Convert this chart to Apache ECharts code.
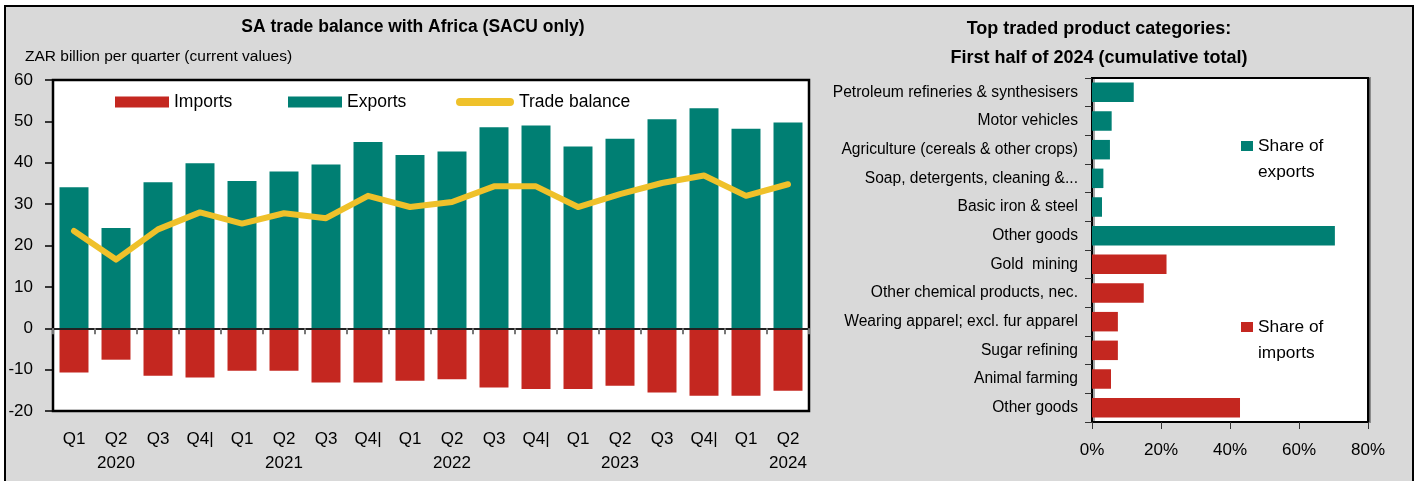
<!DOCTYPE html>
<html>
<head>
<meta charset="utf-8">
<script src="https://cdn.jsdelivr.net/npm/echarts@6/dist/echarts.min.js"></script>
<style>
html,body{margin:0;padding:0;background:#ffffff;}
#chart{width:1419px;height:481px;}
</style>
</head>
<body>
<div id="chart"></div>
<script>
// ---------- Left chart data ----------
const quarterLabels = ['Q1','Q2','Q3','Q4|','Q1','Q2','Q3','Q4|','Q1','Q2','Q3','Q4|','Q1','Q2','Q3','Q4|','Q1','Q2'];
const yearLabels    = ['','2020','','','','2021','','','','2022','','','','2023','','','','2024'];
const exportsValues = [34.1,24.2,35.3,39.9,35.6,37.9,39.6,45.0,41.9,42.7,48.6,49.0,43.9,45.8,50.5,53.2,48.2,49.7];
const importsValues = [-10.7,-7.6,-11.5,-11.9,-10.3,-10.3,-13.1,-13.1,-12.7,-12.3,-14.3,-14.7,-14.7,-13.9,-15.5,-16.3,-16.3,-15.1];
const balanceValues = [23.5,16.6,23.9,28.0,25.3,27.8,26.6,32.0,29.3,30.5,34.3,34.3,29.3,32.4,35.1,36.9,32.0,34.8];

// ---------- Right chart data ----------
const exportProducts = ['Petroleum refineries & synthesisers','Motor vehicles','Agriculture (cereals & other crops)','Soap, detergents, cleaning &...','Basic iron & steel','Other goods'];
const exportShares   = [12.1,5.7,5.2,3.3,2.9,70.4];
const importProducts = ['Gold  mining','Other chemical products, nec.','Wearing apparel; excl. fur apparel','Sugar refining','Animal farming','Other goods'];
const importShares   = [21.6,15.0,7.5,7.5,5.5,42.9];

// ---------- Build ----------
const categories = quarterLabels.map((q, i) => yearLabels[i] ? q + '\n' + yearLabels[i] : q);
const productCats = exportProducts.map((p, i) => ({ value: 'e' + i, label: p }))
  .concat(importProducts.map((p, i) => ({ value: 'i' + i, label: p })));
const productKeys = productCats.map(d => d.value);
const productLabelMap = {};
productCats.forEach(d => { productLabelMap[d.value] = d.label; });
const exportSeriesData = exportShares.concat(importProducts.map(() => '-'));
const importSeriesData = exportProducts.map(() => '-').concat(importShares);

const TEAL = '#007f73';
const RED = '#c42720';
const YELLOW = '#efc12a';
const FONT = "'Liberation Sans', Arial, sans-serif";
// square drawn in the top part of a tall icon box so it lines up with the first text line
const SQUARE_TOP_ICON = 'path://M0,0 H12 V10 H0 Z M0,35.98 H12 V36 H0 Z';

const chart = echarts.init(document.getElementById('chart'), null, { renderer: 'canvas' });

const option = {
  animation: false,
  textStyle: { fontFamily: FONT, color: '#000' },
  graphic: [{
    type: 'rect', silent: true, z: -100,
    shape: { x: 5, y: 6, width: 1408, height: 500 },
    style: { fill: '#d9d9d9', stroke: '#000', lineWidth: 2 }
  }],
  title: [
    { text: 'SA trade balance with Africa (SACU only)', left: 413, top: 18, textAlign: 'center', padding: 0,
      textStyle: { fontFamily: FONT, fontSize: 17.5, fontWeight: 'bold', color: '#000' } },
    { text: 'ZAR billion per quarter (current values)', left: 25, top: 49, padding: 0,
      textStyle: { fontFamily: FONT, fontSize: 15.5, fontWeight: 'normal', color: '#000' } },
    { text: 'Top traded product categories:\nFirst half of 2024 (cumulative total)', left: 1099, top: 15, textAlign: 'center', padding: 0,
      textStyle: { fontFamily: FONT, fontSize: 18, fontWeight: 'bold', color: '#000', lineHeight: 29 } }
  ],
  legend: [
    { data: ['Imports'], left: 115, top: 93, padding: 0, itemWidth: 54, itemHeight: 11, icon: 'rect',
      selectedMode: false, textStyle: { fontSize: 17.5, color: '#000' }, itemStyle: { borderWidth: 0 } },
    { data: ['Exports'], left: 288, top: 93, padding: 0, itemWidth: 54, itemHeight: 11, icon: 'rect',
      selectedMode: false, textStyle: { fontSize: 17.5, color: '#000' }, itemStyle: { borderWidth: 0 } },
    { data: [{ name: 'Trade balance', icon: 'path://M4,0 H54 A4,4 0 0 1 54,8 H4 A4,4 0 0 1 4,0 Z' }],
      left: 456, top: 93, padding: 0, itemWidth: 58, itemHeight: 8,
      selectedMode: false, textStyle: { fontSize: 17.5, color: '#000' }, itemStyle: { borderWidth: 0 } },
    { data: ['Share of exports'], left: 1241, top: 133, padding: 0, itemWidth: 12, itemHeight: 36, icon: SQUARE_TOP_ICON,
      selectedMode: false, formatter: n => n.replace('of ', 'of\n'),
      textStyle: { fontSize: 17.3, color: '#000', lineHeight: 26 }, itemStyle: { borderWidth: 0 } },
    { data: ['Share of imports'], left: 1241, top: 314, padding: 0, itemWidth: 12, itemHeight: 36, icon: SQUARE_TOP_ICON,
      selectedMode: false, formatter: n => n.replace('of ', 'of\n'),
      textStyle: { fontSize: 17.3, color: '#000', lineHeight: 26 }, itemStyle: { borderWidth: 0 } }
  ],
  grid: [
    { left: 53, top: 80, width: 756, height: 331, show: true, backgroundColor: '#fff',
      borderColor: '#000', borderWidth: 2.5, containLabel: false },
    { left: 1092, top: 78, width: 276, height: 344, show: true, backgroundColor: '#fff',
      borderColor: '#000', borderWidth: 2, shadowColor: 'rgba(0,0,0,0.35)', shadowOffsetX: 2, shadowOffsetY: 0, shadowBlur: 0,
      containLabel: false }
  ],
  xAxis: [
    { gridIndex: 0, type: 'category', data: categories, position: 'bottom', z: 10,
      axisLine: { show: true, onZero: true, lineStyle: { color: '#222', width: 2 } },
      axisTick: { show: true, length: 6, lineStyle: { color: '#777', width: 2 } },
      axisLabel: { show: false }, splitLine: { show: false } },
    { gridIndex: 0, type: 'category', data: categories, position: 'bottom',
      axisLine: { show: false, onZero: false }, axisTick: { show: false },
      axisLabel: { show: true, interval: 0, fontSize: 17, color: '#000', margin: 16, lineHeight: 24 },
      splitLine: { show: false } },
    { gridIndex: 1, type: 'value', min: 0, max: 80, interval: 20,
      axisLine: { show: false }, splitLine: { show: false },
      axisTick: { show: true, length: 7, lineStyle: { color: '#333', width: 1 } },
      axisLabel: { formatter: '{value}%', fontSize: 17, color: '#000', margin: 20 } }
  ],
  yAxis: [
    { gridIndex: 0, type: 'value', min: -20, max: 60, interval: 10,
      axisLine: { show: false }, splitLine: { show: false },
      axisTick: { show: true, length: 8, lineStyle: { color: '#000', width: 1.5 } },
      axisLabel: { fontSize: 17, color: '#000', margin: 20 } },
    { gridIndex: 1, type: 'category', data: productKeys, inverse: true,
      axisLine: { show: false }, splitLine: { show: false },
      axisTick: { show: true, length: 7, lineStyle: { color: '#333', width: 1 } },
      axisLabel: { interval: 0, fontSize: 15.6, color: '#000', margin: 14, formatter: v => productLabelMap[v] } }
  ],
  series: [
    { name: 'Imports', type: 'bar', xAxisIndex: 0, yAxisIndex: 0, stack: 'tb', barWidth: '69%',
      itemStyle: { color: RED }, data: importsValues },
    { name: 'Exports', type: 'bar', xAxisIndex: 0, yAxisIndex: 0, stack: 'tb', barWidth: '69%',
      itemStyle: { color: TEAL }, data: exportsValues },
    { name: 'Trade balance', type: 'line', xAxisIndex: 0, yAxisIndex: 0, z: 20, symbol: 'none',
      lineStyle: { color: YELLOW, width: 6, cap: 'round', join: 'round' }, itemStyle: { color: YELLOW },
      data: balanceValues },
    { name: 'Share of exports', type: 'bar', xAxisIndex: 2, yAxisIndex: 1, stack: 'sh', barWidth: '68%',
      itemStyle: { color: TEAL }, data: exportSeriesData },
    { name: 'Share of imports', type: 'bar', xAxisIndex: 2, yAxisIndex: 1, stack: 'sh', barWidth: '68%',
      itemStyle: { color: RED }, data: importSeriesData }
  ]
};
chart.setOption(option);
</script>
</body>
</html>
